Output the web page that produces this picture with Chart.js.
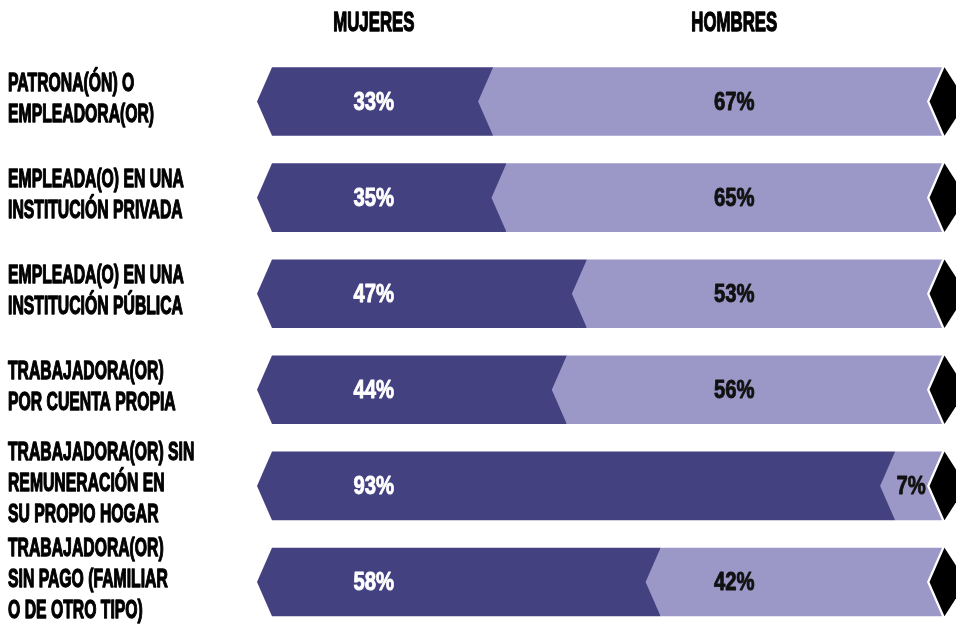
<!DOCTYPE html>
<html>
<head>
<meta charset="utf-8">
<script src="https://cdn.jsdelivr.net/npm/chart.js@4.4.1/dist/chart.umd.min.js"></script>
<style>
  html, body { margin: 0; padding: 0; background: #fff; }
  #wrap { width: 956px; height: 635px; }
</style>
</head>
<body>
<div id="wrap"><canvas id="chart"></canvas></div>
<script>
// data
const categories = [
  ["PATRONA(ÓN) O", "EMPLEADORA(OR)"],
  ["EMPLEADA(O) EN UNA", "INSTITUCIÓN PRIVADA"],
  ["EMPLEADA(O) EN UNA", "INSTITUCIÓN PÚBLICA"],
  ["TRABAJADORA(OR)", "POR CUENTA PROPIA"],
  ["TRABAJADORA(OR) SIN", "REMUNERACIÓN EN", "SU PROPIO HOGAR"],
  ["TRABAJADORA(OR)", "SIN PAGO (FAMILIAR", "O DE OTRO TIPO)"]
];
const seriesNames = ["MUJERES", "HOMBRES"];
const mujeres = [33, 35, 47, 44, 93, 58];
const hombres = [67, 65, 53, 56, 7, 42];

// look
const FONT = "'Liberation Sans', Arial, sans-serif";
const DARK = '#43417f';
const LIGHT = '#9b98c7';
const NOTCH = 15;
const labelCols = [15.2, 69]; // x value where the column labels sit

// condensed bold text: squeeze horizontally, thicken with a thin stroke
function squeeze(ctx, text, x, capMid, size, sx, align, color, weight) {
  ctx.save();
  ctx.font = `bold ${size}px ${FONT}`;
  ctx.fillStyle = color;
  ctx.strokeStyle = color;
  ctx.lineWidth = weight;
  ctx.lineJoin = 'round';
  ctx.textBaseline = 'alphabetic';
  ctx.textAlign = 'left';
  const w = ctx.measureText(text).width * sx;
  const left = align === 'center' ? x - w / 2 : x;
  ctx.translate(left, capMid + size * 0.716 / 2);
  ctx.scale(sx, 1);
  ctx.fillText(text, 0, 0);
  if (weight > 0) ctx.strokeText(text, 0, 0);
  ctx.restore();
}

function poly(ctx, pts, color) {
  ctx.beginPath();
  ctx.moveTo(pts[0][0], pts[0][1]);
  for (let i = 1; i < pts.length; i++) ctx.lineTo(pts[i][0], pts[i][1]);
  ctx.closePath();
  ctx.fillStyle = color;
  ctx.fill();
}

const arrowBars = {
  id: 'arrowBars',
  afterDatasetsDraw(chart) {
    const ctx = chart.ctx;
    const xs = chart.scales.x;
    const ys = chart.scales.y;
    const metaM = chart.getDatasetMeta(0);
    const metaH = chart.getDatasetMeta(1);

    // column headers
    seriesNames.forEach((name, k) => {
      squeeze(ctx, name, xs.getPixelForValue(labelCols[k]), 21, 28, 0.6, 'center', '#000', 1.4);
    });

    metaM.data.forEach((bm, i) => {
      const bh = metaH.data[i];
      const mid = bm.y;
      const top = mid - bm.height / 2;
      const bot = mid + bm.height / 2;

      poly(ctx, [[bm.base, top], [bm.x, top], [bm.x, bot], [bm.base, bot], [bm.base - NOTCH, mid]], DARK);
      poly(ctx, [[bh.base, top], [bh.x, top], [bh.x - NOTCH, mid], [bh.x, bot], [bh.base, bot], [bh.base - NOTCH, mid]], LIGHT);
      const e = bh.x + 2.5;
      poly(ctx, [[e, top], [e + 22, mid], [e, bot], [e - NOTCH, mid]], '#000');

      // value labels
      const segs = [[bm, mujeres[i], '#fff'], [bh, hombres[i], '#111']];
      segs.forEach(([b, v, col], k) => {
        let x = xs.getPixelForValue(labelCols[k]);
        if (b.x - b.base < 80) x = (b.base - NOTCH + b.x) / 2;
        squeeze(ctx, v + '%', x, mid - 1, 26, 0.78, 'center', col, 0.9);
      });

      // category label
      const lines = categories[i];
      const c = ys.getPixelForValue(i) - 4;
      lines.forEach((ln, j) => {
        squeeze(ctx, ln, 8, c + (j - (lines.length - 1) / 2) * 31, 25, 0.63, 'left', '#000', 1.3);
      });
    });
  }
};

new Chart(document.getElementById('chart'), {
  type: 'bar',
  data: {
    labels: categories,
    datasets: [
      { label: seriesNames[0], data: mujeres, backgroundColor: 'rgba(0,0,0,0)', borderWidth: 0 },
      { label: seriesNames[1], data: hombres, backgroundColor: 'rgba(0,0,0,0)', borderWidth: 0 }
    ]
  },
  options: {
    indexAxis: 'y',
    responsive: true,
    maintainAspectRatio: false,
    animation: false,
    datasets: { bar: { categoryPercentage: 1, barPercentage: 0.714 } },
    layout: { padding: { left: 272, right: 14, top: 53.5, bottom: 5 } },
    plugins: { legend: { display: false }, tooltip: { enabled: false } },
    scales: {
      x: { stacked: true, min: 0, max: 100, display: false },
      y: { stacked: true, display: false }
    }
  },
  plugins: [arrowBars]
});
</script>
</body>
</html>
